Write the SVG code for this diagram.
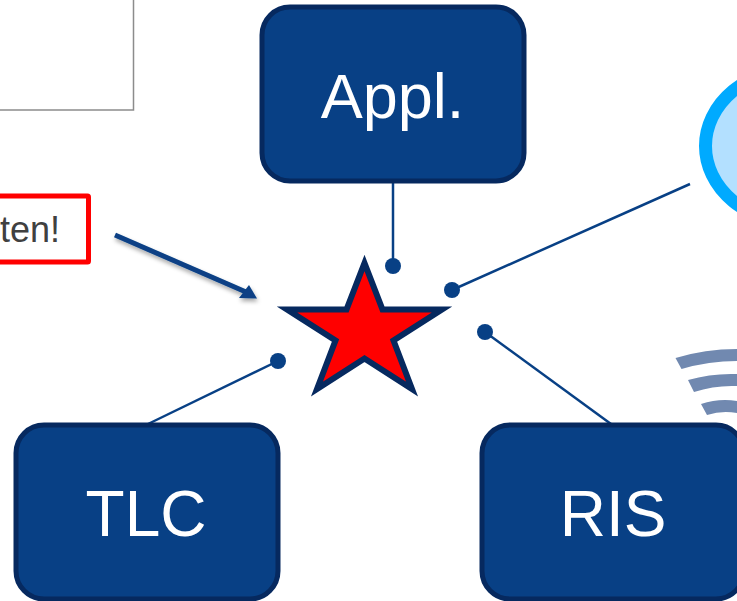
<svg xmlns="http://www.w3.org/2000/svg" width="737" height="601" viewBox="0 0 737 601">
<style>
.box{fill:#084085;stroke:#06295f;stroke-width:5}
.lbl{font-family:"Liberation Sans",Arial,sans-serif;font-size:64px;fill:#fff;text-anchor:middle}
.con{stroke:#084085;stroke-width:2.5;fill:none}
.dot{fill:#084085}
.wave{fill:#7189b0}
</style>
<defs>
<filter id="sh" x="-20%" y="-20%" width="140%" height="150%"><feDropShadow dx="1" dy="3" stdDeviation="2" flood-color="#000" flood-opacity="0.35"/></filter>
</defs>
<g id="note-top"><path d="M-5 -5H133.500V110H-5" fill="#fff" stroke="#8c8c8c" stroke-width="1.500"/></g>
<g id="warning">
<rect x="-20" y="196" width="108.500" height="66" fill="#fff" stroke="#f00" stroke-width="5" rx="1"/>
<text x="60" y="242" font-family="'Liberation Sans',Arial,sans-serif" font-size="36" fill="#404040" text-anchor="end">ten!</text>
</g>
<g id="connectors">
<path class="con" d="M393 180V266"/><circle class="dot" cx="393" cy="266" r="8"/>
<path class="con" d="M690 184L452 290"/><circle class="dot" cx="452" cy="290" r="8"/>
<path class="con" d="M611 424L485 332"/><circle class="dot" cx="485" cy="332" r="8"/>
<path class="con" d="M148 424L278 361"/><circle class="dot" cx="278" cy="361" r="8"/>
<g filter="url(#sh)"><path d="M115 235L246 292" stroke="#084085" stroke-width="5" fill="none"/><path d="M257 298.500L239 298L249 285Z" fill="#084085"/></g>
</g>
<g id="appl"><rect class="box" x="262" y="7" width="262" height="174" rx="28"/><text class="lbl" x="392.500" y="118" font-size="63" style="font-size:63px">Appl.</text></g>
<g id="tlc"><rect class="box" x="16" y="425" width="262" height="174" rx="28"/><text class="lbl" x="146" y="536">TLC</text></g>
<g id="wifi">
<path class="wave" d="M675.500 358Q705 349 737 349V361Q709 361 681.500 369Z"/>
<path class="wave" d="M688 380Q712 373 737 374V386Q715 385 694 392Z"/>
<path class="wave" d="M701 404Q719 398 737 401V413Q722 410 707 415Z"/>
</g>
<g id="ris"><rect class="box" x="482" y="425" width="262" height="174" rx="28"/><text class="lbl" x="613" y="536">RIS</text></g>
<g id="cloud"><ellipse cx="800" cy="146" rx="94.500" ry="78" fill="#b3e0ff" stroke="#00aaff" stroke-width="13"/></g>
<g id="star"><path d="M364.500 263L382.500 309.500H442L393.500 340.500L412 389L364.500 358.500L317 389L335.500 340.500L287 309.500H346.500Z" fill="#f00" stroke="#06295f" stroke-width="6"/></g>
</svg>
